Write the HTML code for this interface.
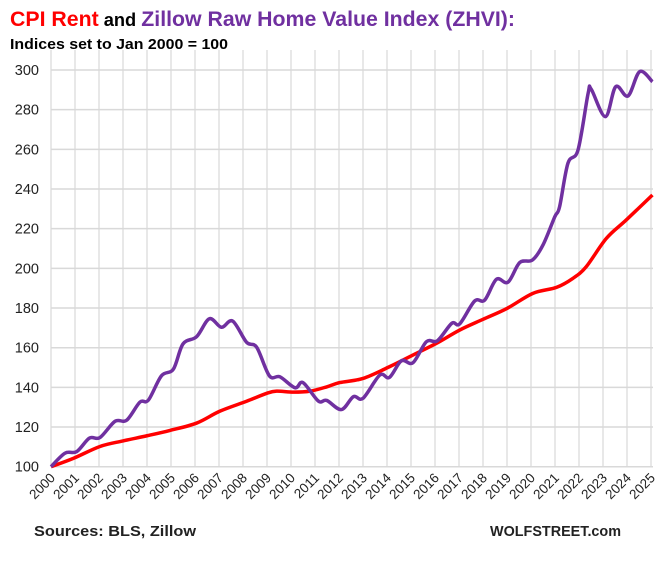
<!DOCTYPE html>
<html><head><meta charset="utf-8">
<style>
body{margin:0;background:#fff;width:672px;height:559px;overflow:hidden;font-family:"Liberation Sans",sans-serif}
</style></head>
<body>
<svg id="chart" width="672" height="559" xmlns="http://www.w3.org/2000/svg" font-family="Liberation Sans, sans-serif">
<text x="10" y="26" font-size="21" font-weight="bold" textLength="505" lengthAdjust="spacingAndGlyphs"><tspan fill="#ff0000">CPI Rent</tspan><tspan fill="#000" font-size="18"> and </tspan><tspan fill="#7030a0">Zillow Raw Home Value Index (ZHVI):</tspan></text>
<text x="10" y="49" font-size="15" font-weight="bold" fill="#000" textLength="218" lengthAdjust="spacingAndGlyphs">Indices set to Jan 2000 = 100</text>
<g id="grid"></g><g id="yt"></g><g id="xt"></g><g id="lines"></g>
<text x="34" y="536" font-size="15" font-weight="bold" fill="#222" textLength="162" lengthAdjust="spacingAndGlyphs">Sources: BLS, Zillow</text>
<text x="490" y="536" font-size="15" font-weight="bold" fill="#222" textLength="131" lengthAdjust="spacingAndGlyphs">WOLFSTREET.com</text>
</svg>
<script>
const yTicks=[100,120,140,160,180,200,220,240,260,280,300];
const xYears=[2000,2001,2002,2003,2004,2005,2006,2007,2008,2009,2010,2011,2012,2013,2014,2015,2016,2017,2018,2019,2020,2021,2022,2023,2024,2025];
const zhviYears=[2000,2000.58,2001.07,2001.6,2002.04,2002.67,2003.15,2003.7,2004.06,2004.6,2005.1,2005.5,2006.07,2006.6,2007.1,2007.57,2008.15,2008.57,2009.1,2009.54,2010.17,2010.5,2011.14,2011.49,2012.1,2012.6,2013,2013.7,2014.1,2014.6,2015.08,2015.64,2016.1,2016.7,2017.03,2017.65,2018.07,2018.56,2019.04,2019.53,2020.06,2020.5,2020.99,2021.19,2021.54,2021.96,2022.38,2022.51,2023.1,2023.53,2024.04,2024.53,2025.06];
const zhviValues=[100,106.8,107.6,114.4,114.7,122.9,123.4,132.5,133.6,145.8,149.2,161.9,165.6,174.6,170.3,173.4,162.7,160.2,145.8,145.3,139.8,142.4,133.1,133.4,128.8,135.3,134.5,146.2,145,153.4,152.4,163,163.5,172.3,172,183.5,184,194.5,193,202.9,204.2,211.8,226,231,253,259.7,288.2,290.3,276.5,291.6,286.9,299.2,294.1];
const rentYears=[2000,2000.93,2002.04,2003,2004,2004.96,2006.07,2007.04,2008.15,2008.99,2009.4,2010.1,2010.8,2011.5,2012.03,2013,2014.1,2015.08,2016.06,2017.03,2018,2019,2020.08,2021.06,2021.75,2022.3,2023.14,2023.97,2025.06];
const rentValues=[100,104.2,110.2,113,115.6,118.3,122,128,133,137,138.1,137.6,138.1,140.3,142.4,144.5,150.4,156.3,162.2,168.9,174.3,179.8,187.4,190.4,195,200.8,215.1,224.4,237];
const NS='http://www.w3.org/2000/svg';
const X0=51,X1=651,Y0=466.7,Y1=70;
const xs=y=>X0+(y-2000)/25*(X1-X0);
const ys=v=>Y0-(v-100)/200*(Y0-Y1);
function mk(t,a,p){const e=document.createElementNS(NS,t);for(const k in a)e.setAttribute(k,a[k]);p.appendChild(e);return e;}
const grid=document.getElementById('grid'),yt=document.getElementById('yt'),xt=document.getElementById('xt'),lines=document.getElementById('lines');
yTicks.forEach(v=>{
 const l=mk('line',{x1:X0,x2:X1+2,y1:ys(v),y2:ys(v),stroke:'#d9d9d9','stroke-width':1.5},grid);
 
 
 const t=mk('text',{x:39,y:ys(v)+5,'text-anchor':'end','font-size':14.5,fill:'#222'},yt);
 t.textContent=v;
 
 
});
xYears.forEach(y=>{
 const l=mk('line',{x1:xs(y),x2:xs(y),y1:50,y2:Y0,stroke:'#d9d9d9','stroke-width':1.2},grid);
 
 
 const t=mk('text',{x:0,y:0,'text-anchor':'end','font-size':13.5,fill:'#222',transform:`translate(${xs(y)+5},${Y0+12}) rotate(-45)`},xt);
 t.textContent=y;
 
 
});
function path(xa,va){
 const p=xa.map((x,i)=>[xs(x),ys(va[i])]);
 let d=`M${p[0][0]},${p[0][1]}`;
 for(let i=0;i<p.length-1;i++){
  const p0=p[Math.max(0,i-1)],p1=p[i],p2=p[i+1],p3=p[Math.min(p.length-1,i+2)];
  const c1=[p1[0]+(p2[0]-p0[0])/6,p1[1]+(p2[1]-p0[1])/6],c2=[p2[0]-(p3[0]-p1[0])/6,p2[1]-(p3[1]-p1[1])/6];
  d+=` C${c1[0]},${c1[1]} ${c2[0]},${c2[1]} ${p2[0]},${p2[1]}`;
 }
 return d;
}
const r=mk('path',{d:path(rentYears,rentValues),fill:'none',stroke:'#ff0000','stroke-width':3.5,'stroke-linejoin':'round'},lines);


const z=mk('path',{d:path(zhviYears,zhviValues),fill:'none',stroke:'#7030a0','stroke-width':3.5,'stroke-linejoin':'round'},lines);


</script>
</body></html>
